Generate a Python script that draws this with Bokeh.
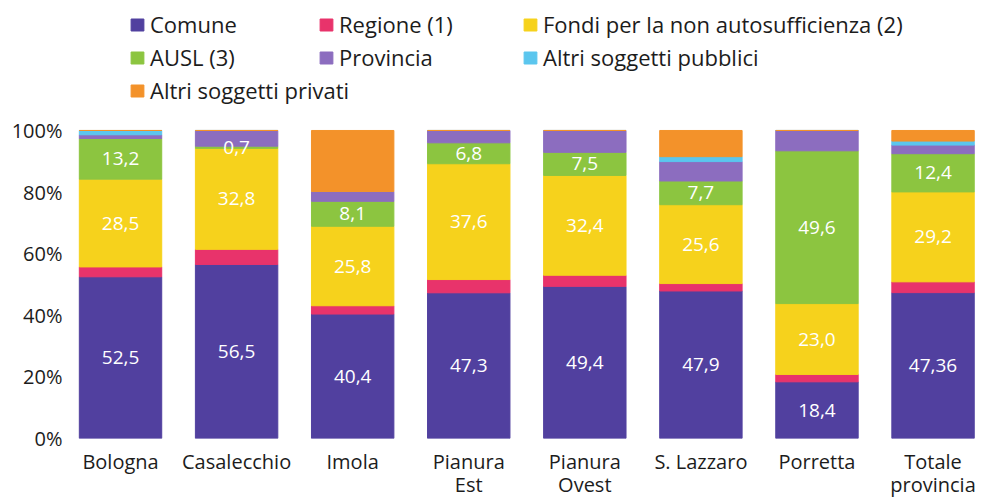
import numpy as np
from bokeh.plotting import figure
from bokeh.models import ColumnDataSource, Range1d, FixedTicker, Legend, LegendItem
from bokeh.core.properties import value
from bokeh.embed import file_html
from bokeh.resources import INLINE

# ---------------- data ----------------
categories = ["Bologna", "Casalecchio", "Imola", "Pianura\nEst", "Pianura\nOvest",
              "S. Lazzaro", "Porretta", "Totale\nprovincia"]
comune         = [52.5, 56.5, 40.4, 47.3, 49.4, 47.9, 18.4, 47.36]
regione        = [3.2, 4.9, 2.7, 4.3, 3.6, 2.4, 2.4, 3.5]
fondi          = [28.5, 32.8, 25.8, 37.6, 32.4, 25.6, 23.0, 29.2]
ausl           = [13.2, 0.7, 8.1, 6.8, 7.5, 7.7, 49.6, 12.4]
provincia      = [1.2, 5.1, 3.2, 4.0, 7.1, 6.3, 6.6, 2.8]
altri_pubblici = [1.4, 0.0, 0.0, 0.0, 0.0, 1.6, 0.0, 1.3]
altri_privati  = [0.0, 0.0, 19.8, 0.0, 0.0, 8.5, 0.0, 3.44]

series_names = ["Comune", "Regione (1)", "Fondi per la non autosufficienza (2)",
                "AUSL (3)", "Provincia", "Altri soggetti pubblici", "Altri soggetti privati"]
series_keys = ["comune", "regione", "fondi", "ausl", "provincia", "pubblici", "privati"]
series_colors = ["#51409F", "#E8336B", "#F6D21C", "#8CC540", "#8C6DBF", "#5BC6EE", "#F3922A"]
labelled_series = ["comune", "fondi", "ausl"]

y_ticks = [0, 20, 40, 60, 80, 100]
y_tick_labels = ["0%", "20%", "40%", "60%", "80%", "100%"]

# ---------------- build ----------------
xs = list(range(len(categories)))
data = dict(x=xs, comune=comune, regione=regione, fondi=fondi, ausl=ausl,
            provincia=provincia, pubblici=altri_pubblici, privati=altri_privati)
src = ColumnDataSource(data)

FONT = "Open Sans"
TXT = "#1c1c1c"

p = figure(frame_width=907, frame_height=430,
           x_range=Range1d(-0.431, 7.383), y_range=Range1d(0, 139.6),
           output_backend="svg", toolbar_location=None,
           min_border_left=70, min_border_right=0, min_border_top=8, min_border_bottom=0,
           background_fill_color="white", border_fill_color="white")

renderers = p.vbar_stack(series_keys, x="x", width=0.71, color=series_colors, source=src)

# value labels centred in segments
cum = np.zeros(len(xs))
lx, ly, lt = [], [], []
for key in series_keys:
    vals = np.array(data[key], dtype=float)
    if key in labelled_series:
        for i, v in enumerate(vals):
            lx.append(xs[i])
            ly.append(cum[i] + v / 2.0)
            lt.append(str(v).replace(".", ","))
    cum += vals
lbl_src = ColumnDataSource(dict(x=lx, y=ly, t=lt))
p.text(x="x", y="y", text="t", source=lbl_src, text_align="center", text_baseline="middle",
       text_color="white", text_font=value(FONT), text_font_size="19px")

# legends: three columns
def make_legend(idx, loc):
    items = [LegendItem(label=series_names[i], renderers=[renderers[i]]) for i in idx]
    lg = Legend(items=items, location=loc, orientation="vertical",
                border_line_color=None, background_fill_alpha=0,
                padding=0, margin=0, spacing=3,
                glyph_width=16, glyph_height=15, label_height=22, label_standoff=5,
                label_text_font=FONT, label_text_font_size="22px", label_text_color=TXT)
    p.add_layout(lg)
    return lg

make_legend([0, 3, 6], (59, 333))
make_legend([1, 4], (248, 366))
make_legend([2, 5], (452, 366))

# axes
p.xaxis.ticker = FixedTicker(ticks=xs)
p.xaxis.major_label_overrides = {x: c for x, c in zip(xs, categories)}
p.yaxis.ticker = FixedTicker(ticks=y_ticks)
p.yaxis.major_label_overrides = {t: l for t, l in zip(y_ticks, y_tick_labels)}
for ax in (p.xaxis, p.yaxis):
    ax.axis_line_color = None
    ax.major_tick_line_color = None
    ax.minor_tick_line_color = None
    ax.major_tick_out = 0
    ax.major_tick_in = 0
    ax.major_label_text_font = FONT
    ax.major_label_text_font_size = "20px"
    ax.major_label_text_color = TXT
p.xaxis.major_label_text_line_height = 0.88
p.xaxis.major_label_standoff = 9
p.yaxis.major_label_standoff = 8
p.grid.visible = False
p.outline_line_color = None

open("out.html", "w").write(file_html(p, INLINE))
